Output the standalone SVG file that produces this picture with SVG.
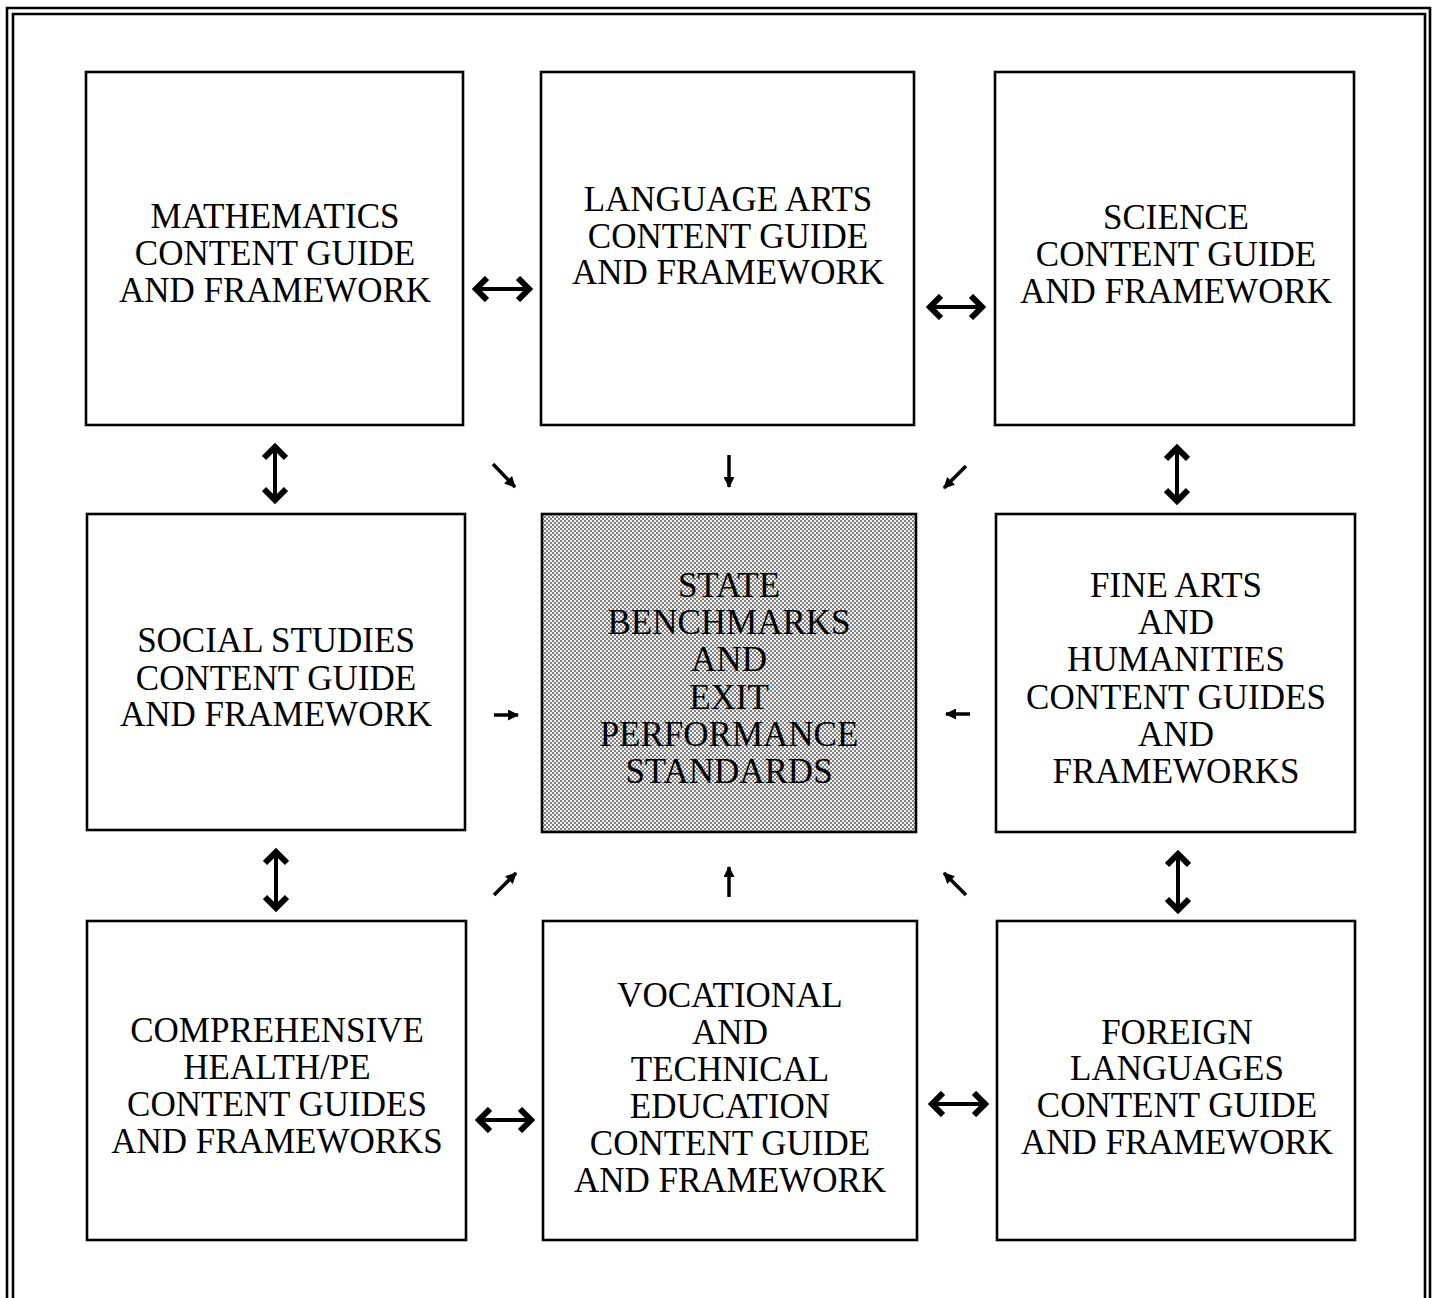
<svg xmlns="http://www.w3.org/2000/svg" width="1437" height="1298" viewBox="0 0 1437 1298">
<style>
.box{fill:#fff;stroke:#000;stroke-width:2.6}
.frame{fill:none;stroke:#000;stroke-width:2.6}
text{font-family:"Liberation Serif","Times New Roman",serif;font-size:35px;fill:#000;text-anchor:middle}
.dbl{stroke:#000;stroke-width:4;fill:none;marker-start:url(#chev);marker-end:url(#chev)}
.sgl{stroke:#000;stroke-width:3.5;fill:none;marker-end:url(#tri)}
</style>
<defs>
<pattern id="dots" width="4" height="4" patternUnits="userSpaceOnUse">
<rect width="4" height="4" fill="#f2f2f2"/>
<rect width="2" height="2" fill="#808080"/>
<rect x="2" y="2" width="2" height="2" fill="#808080"/>
</pattern>
<marker id="chev" viewBox="0 0 18 26" refX="14" refY="13" markerWidth="18" markerHeight="26" markerUnits="userSpaceOnUse" orient="auto-start-reverse">
<path d="M3,2 L14,13 L3,24" fill="none" stroke="#000" stroke-width="6" stroke-linejoin="miter"/>
</marker>
<marker id="tri" viewBox="0 0 11 11" refX="10" refY="5.5" markerWidth="11" markerHeight="11" markerUnits="userSpaceOnUse" orient="auto">
<path d="M0,0 L11,5.5 L0,11 Z" fill="#000"/>
</marker>
</defs>
<rect width="1437" height="1298" fill="#fff"/>
<path class="frame" d="M7,1298 V8 H1430 V1298"/>
<path class="frame" d="M13,1298 V14 H1425 V1298"/>

<g id="math">
<rect class="box" x="86" y="72" width="377" height="353"/>
<text x="275" y="228">MATHEMATICS</text>
<text x="275" y="265">CONTENT GUIDE</text>
<text x="275" y="302">AND FRAMEWORK</text>
</g>
<g id="langarts">
<rect class="box" x="541" y="72" width="373" height="353"/>
<text x="728" y="211">LANGUAGE ARTS</text>
<text x="728" y="248">CONTENT GUIDE</text>
<text x="728" y="284">AND FRAMEWORK</text>
</g>
<g id="science">
<rect class="box" x="995" y="72" width="359" height="353"/>
<text x="1176" y="229">SCIENCE</text>
<text x="1176" y="266">CONTENT GUIDE</text>
<text x="1176" y="303">AND FRAMEWORK</text>
</g>
<g id="social">
<rect class="box" x="87" y="514" width="378" height="316"/>
<text x="276" y="652">SOCIAL STUDIES</text>
<text x="276" y="690">CONTENT GUIDE</text>
<text x="276" y="726">AND FRAMEWORK</text>
</g>
<g id="state">
<rect class="box" x="542" y="514" width="374" height="318" style="fill:url(#dots)"/>
<text x="729" y="597">STATE</text>
<text x="729" y="634">BENCHMARKS</text>
<text x="729" y="671">AND</text>
<text x="729" y="709">EXIT</text>
<text x="729" y="746">PERFORMANCE</text>
<text x="729" y="783">STANDARDS</text>
</g>
<g id="finearts">
<rect class="box" x="996" y="514" width="359" height="318"/>
<text x="1176" y="597">FINE ARTS</text>
<text x="1176" y="634">AND</text>
<text x="1176" y="671">HUMANITIES</text>
<text x="1176" y="709">CONTENT GUIDES</text>
<text x="1176" y="746">AND</text>
<text x="1176" y="783">FRAMEWORKS</text>
</g>
<g id="health">
<rect class="box" x="87" y="921" width="379" height="319"/>
<text x="277" y="1042">COMPREHENSIVE</text>
<text x="277" y="1079">HEALTH/PE</text>
<text x="277" y="1116">CONTENT GUIDES</text>
<text x="277" y="1153">AND FRAMEWORKS</text>
</g>
<g id="vocational">
<rect class="box" x="543" y="921" width="374" height="319"/>
<text x="730" y="1007">VOCATIONAL</text>
<text x="730" y="1044">AND</text>
<text x="730" y="1081">TECHNICAL</text>
<text x="730" y="1118">EDUCATION</text>
<text x="730" y="1155">CONTENT GUIDE</text>
<text x="730" y="1192">AND FRAMEWORK</text>
</g>
<g id="foreign">
<rect class="box" x="997" y="921" width="358" height="319"/>
<text x="1177" y="1044">FOREIGN</text>
<text x="1177" y="1080">LANGUAGES</text>
<text x="1177" y="1117">CONTENT GUIDE</text>
<text x="1177" y="1154">AND FRAMEWORK</text>
</g>

<g id="connectors">
<line class="dbl" x1="476" y1="289" x2="529" y2="289"/>
<line class="dbl" x1="930" y1="307" x2="982" y2="307"/>
<line class="dbl" x1="479" y1="1120" x2="531" y2="1120"/>
<line class="dbl" x1="932" y1="1104" x2="985" y2="1104"/>
<line class="dbl" x1="275" y1="447" x2="275" y2="500"/>
<line class="dbl" x1="1177" y1="448" x2="1177" y2="501"/>
<line class="dbl" x1="276" y1="852" x2="276" y2="908"/>
<line class="dbl" x1="1178" y1="854" x2="1178" y2="910"/>
<line class="sgl" x1="493" y1="464" x2="515" y2="487"/>
<line class="sgl" x1="729" y1="455" x2="729" y2="487"/>
<line class="sgl" x1="966" y1="466" x2="944" y2="488"/>
<line class="sgl" x1="494" y1="715" x2="518" y2="715"/>
<line class="sgl" x1="970" y1="714" x2="946" y2="714"/>
<line class="sgl" x1="494" y1="895" x2="516" y2="873"/>
<line class="sgl" x1="729" y1="897" x2="729" y2="867"/>
<line class="sgl" x1="966" y1="895" x2="944" y2="873"/>
</g>
</svg>
